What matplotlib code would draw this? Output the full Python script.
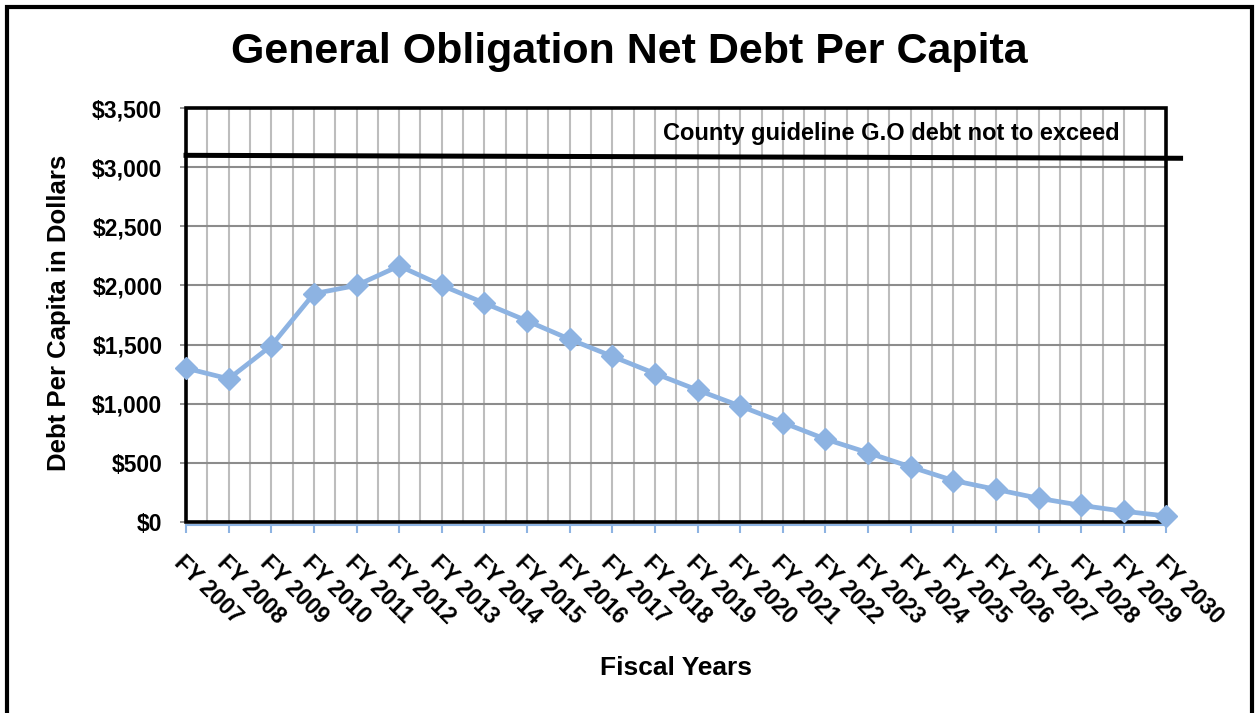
import numpy as np
import matplotlib.pyplot as plt
from matplotlib.patches import Rectangle

plt.rcParams['font.family'] = ['Liberation Sans', 'DejaVu Sans']

years = ['FY %d' % y for y in range(2007, 2031)]
debt = [1300, 1210, 1490, 1930, 2000, 2165, 2000, 1850, 1700, 1545, 1400, 1255,
        1115, 980, 840, 700, 585, 465, 350, 275, 200, 140, 90, 50]
guideline = [3100, 3075]
guide_text = 'County guideline G.O debt not to exceed'

fig = plt.figure(figsize=(12.57, 7.13), dpi=100)
ax = fig.add_axes([0.148, 0.268, 0.780, 0.5805])

x = np.arange(len(years))
ax.set_xlim(0, len(years) - 1)
ax.set_ylim(0, 3500)

# grid
for gx in np.arange(0, len(years) - 0.5, 0.5):
    ax.axvline(gx, color='#bdbdbd', lw=1.5, zorder=1)
for gy in range(500, 3500, 500):
    ax.axhline(gy, color='#8c8c8c', lw=1.5, zorder=1)

ax.plot(x, debt, color='#8db3e2', lw=3.4, marker='D', markersize=11.5,
        zorder=5, clip_on=False)

# guideline
ax.plot([0, 23.33], guideline, color='black', lw=3.6, zorder=4, clip_on=False)
ax.text(11.2, 3288, guide_text, fontsize=17, fontweight='bold',
        ha='left', va='center', zorder=6)

# frame
for s in ['left', 'top', 'right']:
    ax.spines[s].set_visible(False)
ax.spines['bottom'].set_color('#8db3e2')
ax.spines['bottom'].set_linewidth(1.5)
ax.spines['bottom'].set_position(('outward', 2))
ax.add_patch(Rectangle((0, 0), 1, 1, transform=ax.transAxes, fill=False,
                       ec='black', lw=2.6, zorder=3, clip_on=False))

ax.set_yticks(range(0, 3501, 500))
ax.set_yticklabels(['$0', '$500', '$1,000', '$1,500', '$2,000', '$2,500',
                    '$3,000', '$3,500'], fontsize=16.5, fontweight='bold')
ax.tick_params(axis='y', length=4, width=1.2, color='#808080', pad=13)
ax.set_xticks(x)
ax.set_xticklabels(years, fontsize=16.5, fontweight='bold', rotation=-45,
                   ha='left', rotation_mode='anchor')
ax.tick_params(axis='x', length=6, width=1.5, color='#8db3e2', pad=13)

ax.set_ylabel('Debt Per Capita in Dollars', fontsize=18.5, fontweight='bold')
ax.yaxis.set_label_coords(-0.117, 0.505)
fig.text(0.538, 0.063, 'Fiscal Years', fontsize=19, fontweight='bold',
         ha='center', va='center')
fig.text(0.501, 0.927, 'General Obligation Net Debt Per Capita', fontsize=31,
         fontweight='bold', ha='center', va='center')

# outer border
fig.patches.append(Rectangle((0.0055, -0.02), 0.9905, 1.01, transform=fig.transFigure,
                             fill=False, ec='black', lw=3, zorder=10))

fig.savefig('out.png', dpi=100)
